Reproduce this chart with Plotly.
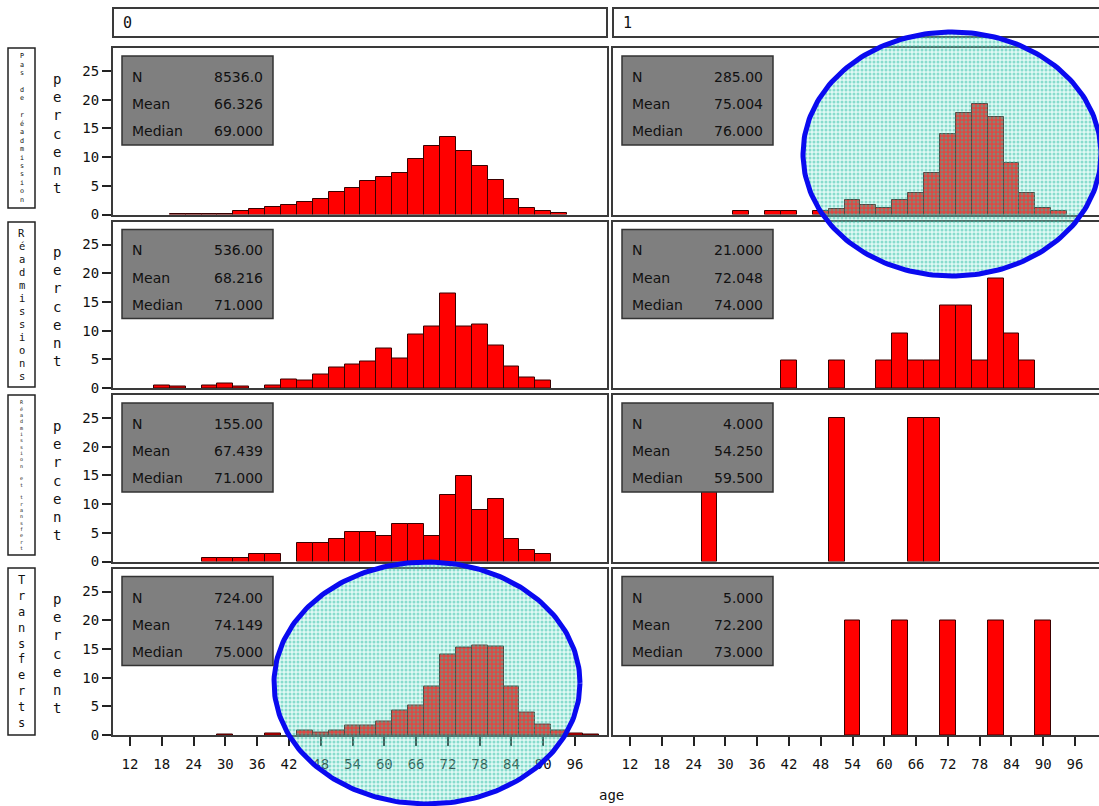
import numpy as np
import plotly.graph_objects as go

W, H = 1099, 806

# Rows: patient group, columns: outcome flag
groups = ["Pas de réadmission", "Réadmissions", "Réadmission et transfert", "Transferts"]
status_labels = ["0", "1"]

# Percent of patients per 3-year age class (class midpoints, years)
age_pas_0 = [21, 24, 27, 30, 33, 36, 39, 42, 45, 48, 51, 54, 57, 60, 63, 66, 69, 72, 75, 78, 81, 84, 87, 90, 93]
pct_pas_0 = [0.1, 0.1, 0.1, 0.1, 0.6, 0.9, 1.3, 1.6, 2.2, 2.7, 3.9, 4.6, 5.8, 6.5, 7.2, 9.6, 11.9, 13.5, 11.0, 8.4, 6.0, 2.7, 1.1, 0.6, 0.2]

age_pas_1 = [33, 39, 42, 48, 51, 54, 57, 60, 63, 66, 69, 72, 75, 78, 81, 84, 87, 90, 93]
pct_pas_1 = [0.6, 0.6, 0.6, 0.6, 0.9, 2.5, 1.6, 1.2, 2.5, 3.7, 7.2, 14.1, 17.6, 19.3, 17.0, 8.9, 3.7, 1.2, 0.6]

age_rea_0 = [18, 21, 27, 30, 33, 39, 42, 45, 48, 51, 54, 57, 60, 63, 66, 69, 72, 75, 78, 81, 84, 87, 90]
pct_rea_0 = [0.5, 0.25, 0.5, 0.8, 0.3, 0.5, 1.45, 1.3, 2.4, 3.6, 4.1, 4.6, 6.9, 5.1, 9.3, 10.7, 16.4, 10.7, 11.0, 7.4, 3.8, 1.9, 1.3]

age_rea_1 = [42, 51, 60, 63, 66, 69, 72, 75, 78, 81, 84, 87]
pct_rea_1 = [4.76, 4.76, 4.76, 9.52, 4.76, 4.76, 14.29, 14.29, 4.76, 19.05, 9.52, 4.76]

age_rt_0 = [27, 30, 33, 36, 39, 45, 48, 51, 54, 57, 60, 63, 66, 69, 72, 75, 78, 81, 84, 87, 90]
pct_rt_0 = [0.65, 0.65, 0.65, 1.29, 1.29, 3.23, 3.23, 3.87, 5.16, 5.16, 4.52, 6.45, 6.45, 4.52, 11.61, 14.84, 9.03, 10.97, 3.87, 1.94, 1.29]

age_rt_1 = [27, 51, 66, 69]
pct_rt_1 = [25, 25, 25, 25]

age_tr_0 = [30, 39, 45, 48, 51, 54, 57, 60, 63, 66, 69, 72, 75, 78, 81, 84, 87, 90, 93, 96, 99]
pct_tr_0 = [0.15, 0.3, 0.7, 0.5, 0.75, 1.6, 1.7, 2.4, 4.2, 5.2, 8.5, 14.0, 15.2, 15.6, 15.4, 8.5, 3.9, 1.8, 0.7, 0.2, 0.15]

age_tr_1 = [54, 63, 72, 81, 90]
pct_tr_1 = [20, 20, 20, 20, 20]

# Summary statistics per panel (row-major: group, then flag 0/1)
stat_n = ["8536.0", "285.00", "536.00", "21.000", "155.00", "4.000", "724.00", "5.000"]
stat_mean = ["66.326", "75.004", "68.216", "72.048", "67.439", "54.250", "74.149", "72.200"]
stat_median = ["69.000", "76.000", "71.000", "74.000", "71.000", "59.500", "75.000", "73.000"]

x_ticks = [12, 18, 24, 30, 36, 42, 48, 54, 60, 66, 72, 78, 84, 90, 96]
y_ticks = [0, 5, 10, 15, 20, 25]

panels = [
    [(age_pas_0, pct_pas_0), (age_pas_1, pct_pas_1)],
    [(age_rea_0, pct_rea_0), (age_rea_1, pct_rea_1)],
    [(age_rt_0, pct_rt_0), (age_rt_1, pct_rt_1)],
    [(age_tr_0, pct_tr_0), (age_tr_1, pct_tr_1)],
]

# ---- page geometry (pixels) ----
ROW_TOP = [48, 221.5, 395, 568.5]
ROW_H = 166.5
COL_X = [(113, 607), (613, W)]
PX_PER_YEAR = 5.298
PX_PER_PCT = 5.74
FIRST_TICK_OFFSET = 17  # px from panel edge to the first age tick

FRAME = "#3a3a3a"
MONO = "DejaVu Sans Mono"
SANS = "DejaVu Sans"


def px(x):
    return x / W


def py(y):
    return 1 - y / H


fig = go.Figure()
layout = dict(
    width=W, height=H,
    margin=dict(l=0, r=0, t=0, b=0, pad=0, autoexpand=False),
    autosize=False,
    paper_bgcolor="white", plot_bgcolor="rgba(0,0,0,0)",
    showlegend=False, bargap=0,
)
shapes = []
annotations = []

for r in range(4):
    for c in range(2):
        k = r * 2 + c + 1
        xs = "x" if k == 1 else f"x{k}"
        ys = "y" if k == 1 else f"y{k}"
        ages, pcts = panels[r][c]
        fig.add_trace(go.Bar(
            x=ages, y=pcts, width=3, xaxis=xs, yaxis=ys,
            marker=dict(color="#ff0000", line=dict(color="#3a0000", width=1)),
            hoverinfo="skip",
        ))
        x0, x1 = COL_X[c]
        lo = 12 - FIRST_TICK_OFFSET / PX_PER_YEAR
        hi = lo + (x1 - x0) / PX_PER_YEAR
        top = ROW_TOP[r]
        bottom = top + ROW_H
        bottom_row = r == 3
        layout["xaxis" if k == 1 else f"xaxis{k}"] = dict(
            domain=[px(x0), px(x1)], range=[lo, hi], anchor=ys,
            showline=True, mirror=True, linecolor=FRAME, linewidth=2,
            showgrid=False, zeroline=False, fixedrange=True, automargin=False,
            tickmode="array", tickvals=x_ticks,
            ticks="outside" if bottom_row else "", ticklen=9, tickwidth=1.5,
            tickcolor="#222", showticklabels=bottom_row,
            tickfont=dict(family=MONO, size=14, color="#111"),
            ticklabelstandoff=6,
        )
        layout["yaxis" if k == 1 else f"yaxis{k}"] = dict(
            domain=[py(bottom), py(top)], range=[0, ROW_H / PX_PER_PCT], anchor=xs,
            showline=True, mirror=(c == 0), linecolor=FRAME, linewidth=2,
            showgrid=False, zeroline=False, fixedrange=True, automargin=False,
            tickmode="array", tickvals=y_ticks,
            ticks="outside" if c == 0 else "", ticklen=9, tickwidth=1.5,
            tickcolor="#222", showticklabels=(c == 0),
            tickfont=dict(family=MONO, size=14, color="#111"),
        )

        # statistics box
        bx0, bx1 = x0 + 9, x0 + 160
        by0, by1 = top + 8, top + 97
        shapes.append(dict(
            type="rect", xref="paper", yref="paper", layer="above",
            x0=px(bx0), x1=px(bx1), y0=py(by1), y1=py(by0),
            fillcolor="#7f7f7f", line=dict(color="#333333", width=1.5),
        ))
        for j, (lab, val) in enumerate(zip(["N", "Mean", "Median"],
                                           [stat_n[k - 1], stat_mean[k - 1], stat_median[k - 1]])):
            yy = by0 + 21 + 27 * j
            annotations.append(dict(
                xref="paper", yref="paper", x=px(bx0 + 8), y=py(yy), text=lab,
                showarrow=False, xanchor="left", yanchor="middle",
                font=dict(family=SANS, size=14, color="#111"),
            ))
            annotations.append(dict(
                xref="paper", yref="paper", x=px(bx1 - 8), y=py(yy), text=val,
                showarrow=False, xanchor="right", yanchor="middle",
                font=dict(family=SANS, size=14, color="#111"),
            ))

    # vertical "percent" title
    mid = ROW_TOP[r] + ROW_H / 2
    annotations.append(dict(
        xref="paper", yref="paper", x=px(57), y=py(mid + 2),
        text="<br>".join("percent"), showarrow=False,
        xanchor="center", yanchor="middle", align="center",
        font=dict(family=MONO, size=14, color="#111"),
    ))

# group label boxes on the left, characters stacked vertically
LABEL_BOX = [(48, 208), (222, 387), (395, 555), (568, 735)]
for r, (t, b) in enumerate(LABEL_BOX):
    shapes.append(dict(
        type="rect", xref="paper", yref="paper", layer="below",
        x0=px(8), x1=px(35), y0=py(b), y1=py(t),
        line=dict(color="#222", width=1.5), fillcolor="rgba(0,0,0,0)",
    ))
    text = groups[r]
    slot = (b - t - 8) / len(text)
    fs = min(12, slot * 0.8)
    for i, ch in enumerate(text):
        if ch == " ":
            continue
        annotations.append(dict(
            xref="paper", yref="paper", x=px(21.5), y=py(t + 4 + (i + 0.5) * slot),
            text=ch, showarrow=False, xanchor="center", yanchor="middle",
            font=dict(family=MONO, size=fs, color="#111"),
        ))

# column header strips
for c, (x0, x1) in enumerate(COL_X):
    shapes.append(dict(
        type="rect", xref="paper", yref="paper", layer="below",
        x0=px(x0), x1=px(x1 + (8 if c == 1 else 0)), y0=py(37), y1=py(8),
        line=dict(color=FRAME, width=2), fillcolor="rgba(0,0,0,0)",
    ))
    annotations.append(dict(
        xref="paper", yref="paper", x=px(x0 + 8), y=py(23), text=status_labels[c],
        showarrow=False, xanchor="left", yanchor="middle",
        font=dict(family=MONO, size=15, color="#111"),
    ))

annotations.append(dict(
    xref="paper", yref="paper", x=px(611), y=py(795), text="age",
    showarrow=False, xanchor="center", yanchor="middle",
    font=dict(family=MONO, size=14, color="#111"),
))

# highlight ellipses drawn on a full-page overlay in pixel units
HIGHLIGHTS = [(952, 154, 149, 122), (427, 683, 153, 121)]
t = np.linspace(0, 2 * np.pi, 241)
for cx, cy, rx, ry in HIGHLIGHTS:
    fig.add_trace(go.Scatter(
        x=cx + rx * np.cos(t), y=cy + ry * np.sin(t), xaxis="x9", yaxis="y9",
        mode="lines", fill="toself",
        fillcolor="rgba(120,225,205,0.35)",
        fillpattern=dict(shape=".", fgcolor="#2fbfa5", bgcolor="rgba(150,235,220,0.30)",
                         size=4, solidity=0.45),
        line=dict(color="#0a0af0", width=5), hoverinfo="skip",
    ))
layout["xaxis9"] = dict(domain=[0, 1], range=[0, W], visible=False, fixedrange=True, anchor="y9")
layout["yaxis9"] = dict(domain=[0, 1], range=[H, 0], visible=False, fixedrange=True, anchor="x9")

layout["shapes"] = shapes
layout["annotations"] = annotations
fig.update_layout(**layout)

fig.write_html("out.html", config={"responsive": False, "displayModeBar": False})
